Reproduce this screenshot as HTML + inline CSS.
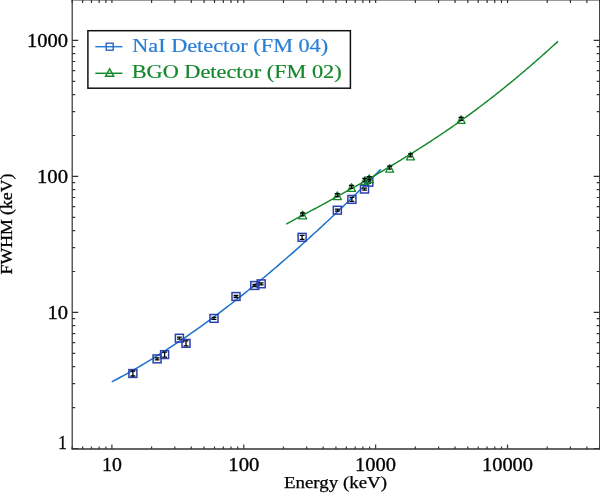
<!DOCTYPE html><html><head><meta charset="utf-8"><style>html,body{margin:0;padding:0;background:#fff;overflow:hidden;}svg{display:block;will-change:transform}text{font-family:"Liberation Serif",serif;fill:#000}</style></head><body>
<svg width="600" height="493" viewBox="0 0 600 493">
<rect width="600" height="493" fill="#fff"/>
<path d="M72.2,-1.1 V449.6 M599.7,-1.1 V449.6 M72.2,-0.1 H599.7" fill="none" stroke="#333" stroke-width="1.2"/>
<path d="M71.60000000000001,449.0 H600.3000000000001" fill="none" stroke="#333" stroke-width="1.35"/>
<path d="M72.20,449.0v-2.5 M72.20,-0.1v3.2 M82.64,449.0v-2.5 M82.64,-0.1v3.2 M91.47,449.0v-2.5 M91.47,-0.1v3.2 M99.12,449.0v-2.5 M99.12,-0.1v3.2 M105.87,449.0v-2.5 M105.87,-0.1v3.2 M111.90,449.0v-4.5 M111.90,-0.1v3.2 M151.60,449.0v-2.5 M151.60,-0.1v3.2 M174.82,449.0v-2.5 M174.82,-0.1v3.2 M191.29,449.0v-2.5 M191.29,-0.1v3.2 M204.07,449.0v-2.5 M204.07,-0.1v3.2 M214.51,449.0v-2.5 M214.51,-0.1v3.2 M223.34,449.0v-2.5 M223.34,-0.1v3.2 M230.99,449.0v-2.5 M230.99,-0.1v3.2 M237.74,449.0v-2.5 M237.74,-0.1v3.2 M243.77,449.0v-4.5 M243.77,-0.1v3.2 M283.47,449.0v-2.5 M283.47,-0.1v3.2 M306.69,449.0v-2.5 M306.69,-0.1v3.2 M323.16,449.0v-2.5 M323.16,-0.1v3.2 M335.94,449.0v-2.5 M335.94,-0.1v3.2 M346.38,449.0v-2.5 M346.38,-0.1v3.2 M355.21,449.0v-2.5 M355.21,-0.1v3.2 M362.86,449.0v-2.5 M362.86,-0.1v3.2 M369.61,449.0v-2.5 M369.61,-0.1v3.2 M375.64,449.0v-4.5 M375.64,-0.1v3.2 M415.34,449.0v-2.5 M415.34,-0.1v3.2 M438.56,449.0v-2.5 M438.56,-0.1v3.2 M455.03,449.0v-2.5 M455.03,-0.1v3.2 M467.81,449.0v-2.5 M467.81,-0.1v3.2 M478.25,449.0v-2.5 M478.25,-0.1v3.2 M487.08,449.0v-2.5 M487.08,-0.1v3.2 M494.73,449.0v-2.5 M494.73,-0.1v3.2 M501.48,449.0v-2.5 M501.48,-0.1v3.2 M507.51,449.0v-4.5 M507.51,-0.1v3.2 M547.21,449.0v-2.5 M547.21,-0.1v3.2 M570.43,449.0v-2.5 M570.43,-0.1v3.2 M586.90,449.0v-2.5 M586.90,-0.1v3.2 M599.68,449.0v-2.5 M599.68,-0.1v3.2 M72.2,448.50h6 M599.7,448.50h-6 M72.2,407.55h3 M599.7,407.55h-3 M72.2,383.60h3 M599.7,383.60h-3 M72.2,366.60h3 M599.7,366.60h-3 M72.2,353.42h3 M599.7,353.42h-3 M72.2,342.65h3 M599.7,342.65h-3 M72.2,333.54h3 M599.7,333.54h-3 M72.2,325.65h3 M599.7,325.65h-3 M72.2,318.69h3 M599.7,318.69h-3 M72.2,312.47h6 M599.7,312.47h-6 M72.2,271.52h3 M599.7,271.52h-3 M72.2,247.57h3 M599.7,247.57h-3 M72.2,230.57h3 M599.7,230.57h-3 M72.2,217.39h3 M599.7,217.39h-3 M72.2,206.62h3 M599.7,206.62h-3 M72.2,197.51h3 M599.7,197.51h-3 M72.2,189.62h3 M599.7,189.62h-3 M72.2,182.66h3 M599.7,182.66h-3 M72.2,176.44h6 M599.7,176.44h-6 M72.2,135.49h3 M599.7,135.49h-3 M72.2,111.54h3 M599.7,111.54h-3 M72.2,94.54h3 M599.7,94.54h-3 M72.2,81.36h3 M599.7,81.36h-3 M72.2,70.59h3 M599.7,70.59h-3 M72.2,61.48h3 M599.7,61.48h-3 M72.2,53.59h3 M599.7,53.59h-3 M72.2,46.63h3 M599.7,46.63h-3 M72.2,40.41h6 M599.7,40.41h-6 M72.2,-0.54h3 M599.7,-0.54h-3" stroke="#333" stroke-width="1.2" fill="none"/>
<text x="111.9" y="470.8" font-size="18" stroke="#000" stroke-width="0.3" text-anchor="middle" textLength="19.8" lengthAdjust="spacingAndGlyphs">10</text>
<text x="243.8" y="470.8" font-size="18" stroke="#000" stroke-width="0.3" text-anchor="middle" textLength="31" lengthAdjust="spacingAndGlyphs">100</text>
<text x="375.6" y="470.8" font-size="18" stroke="#000" stroke-width="0.3" text-anchor="middle" textLength="41" lengthAdjust="spacingAndGlyphs">1000</text>
<text x="507.5" y="470.8" font-size="18" stroke="#000" stroke-width="0.3" text-anchor="middle" textLength="51" lengthAdjust="spacingAndGlyphs">10000</text>
<text x="66.8" y="448.6" font-size="18" stroke="#000" stroke-width="0.3" text-anchor="end" textLength="8.5" lengthAdjust="spacingAndGlyphs">1</text>
<text x="68" y="318.8" font-size="18" stroke="#000" stroke-width="0.3" text-anchor="end" textLength="20.5" lengthAdjust="spacingAndGlyphs">10</text>
<text x="68" y="182.7" font-size="18" stroke="#000" stroke-width="0.3" text-anchor="end" textLength="31" lengthAdjust="spacingAndGlyphs">100</text>
<text x="68" y="46.7" font-size="18" stroke="#000" stroke-width="0.3" text-anchor="end" textLength="41" lengthAdjust="spacingAndGlyphs">1000</text>
<text x="335.5" y="488" font-size="16" stroke="#000" stroke-width="0.25" text-anchor="middle" textLength="103" lengthAdjust="spacingAndGlyphs">Energy (keV)</text>
<text transform="translate(12.2,224) rotate(-90)" x="0" y="0" font-size="17" stroke="#000" stroke-width="0.3" text-anchor="middle" textLength="100.8" lengthAdjust="spacingAndGlyphs">FWHM (keV)</text>
<path d="M111.80,381.85 L114.06,380.66 L116.32,379.47 L118.58,378.25 L120.84,377.03 L123.10,375.80 L125.36,374.55 L127.62,373.29 L129.88,372.02 L132.14,370.74 L134.41,369.44 L136.67,368.14 L138.93,366.82 L141.19,365.49 L143.45,364.15 L145.71,362.80 L147.97,361.44 L150.23,360.07 L152.49,358.68 L154.75,357.28 L157.01,355.88 L159.27,354.46 L161.53,353.03 L163.79,351.59 L166.05,350.14 L168.31,348.67 L170.57,347.20 L172.83,345.72 L175.09,344.22 L177.35,342.72 L179.62,341.20 L181.88,339.67 L184.14,338.13 L186.40,336.59 L188.66,335.03 L190.92,333.46 L193.18,331.88 L195.44,330.29 L197.70,328.69 L199.96,327.08 L202.22,325.46 L204.48,323.83 L206.74,322.19 L209.00,320.54 L211.26,318.88 L213.52,317.20 L215.78,315.52 L218.04,313.83 L220.30,312.13 L222.56,310.42 L224.83,308.70 L227.09,306.97 L229.35,305.24 L231.61,303.49 L233.87,301.73 L236.13,299.96 L238.39,298.18 L240.65,296.40 L242.91,294.60 L245.17,292.80 L247.43,290.98 L249.69,289.16 L251.95,287.33 L254.21,285.48 L256.47,283.63 L258.73,281.77 L260.99,279.91 L263.25,278.03 L265.51,276.14 L267.77,274.25 L270.04,272.34 L272.30,270.43 L274.56,268.51 L276.82,266.58 L279.08,264.64 L281.34,262.69 L283.60,260.74 L285.86,258.78 L288.12,256.80 L290.38,254.82 L292.64,252.83 L294.90,250.84 L297.16,248.83 L299.42,246.82 L301.68,244.80 L303.94,242.77 L306.20,240.73 L308.46,238.69 L310.72,236.63 L312.98,234.57 L315.25,232.50 L317.51,230.43 L319.77,228.34 L322.03,226.25 L324.29,224.15 L326.55,222.05 L328.81,219.93 L331.07,217.81 L333.33,215.68 L335.59,213.54 L337.85,211.40 L340.11,209.25 L342.37,207.09 L344.63,204.93 L346.89,202.75 L349.15,200.57 L351.41,198.39 L353.67,196.19 L355.93,193.99 L358.19,191.79 L360.46,189.57 L362.72,187.35 L364.98,185.12 L367.24,182.89 L369.50,180.65 L371.76,178.40 L374.02,176.15 L376.28,173.89 L378.54,171.62 L380.80,169.35" fill="none" stroke="#1c72ca" stroke-width="1.5" stroke-linejoin="round"/>
<rect x="128.90" y="369.60" width="8" height="7.8" fill="none" stroke="#2a3fb0" stroke-width="1.5"/>
<path d="M130.50,371.00h4.8 M132.90,371.00v5.00 M130.50,376.00h4.8" stroke="#000" stroke-width="1.3"/>
<rect x="153.10" y="355.00" width="8" height="7.8" fill="none" stroke="#2a3fb0" stroke-width="1.5"/>
<path d="M154.70,357.90h4.8 M157.10,357.90v2.00 M154.70,359.90h4.8" stroke="#000" stroke-width="1.3"/>
<rect x="160.60" y="350.70" width="8" height="7.8" fill="none" stroke="#2a3fb0" stroke-width="1.5"/>
<path d="M162.20,352.10h4.8 M164.60,352.10v5.00 M162.20,357.10h4.8" stroke="#000" stroke-width="1.3"/>
<rect x="175.40" y="334.30" width="8" height="7.8" fill="none" stroke="#2a3fb0" stroke-width="1.5"/>
<path d="M177.00,337.20h4.8 M179.40,337.20v2.00 M177.00,339.20h4.8" stroke="#000" stroke-width="1.3"/>
<rect x="182.00" y="339.50" width="8" height="7.8" fill="none" stroke="#2a3fb0" stroke-width="1.5"/>
<path d="M183.60,340.90h4.8 M186.00,340.90v5.00 M183.60,345.90h4.8" stroke="#000" stroke-width="1.3"/>
<rect x="210.00" y="314.50" width="8" height="7.8" fill="none" stroke="#2a3fb0" stroke-width="1.5"/>
<path d="M211.60,317.40h4.8 M214.00,317.40v2.00 M211.60,319.40h4.8" stroke="#000" stroke-width="1.3"/>
<rect x="232.00" y="292.60" width="8" height="7.8" fill="none" stroke="#2a3fb0" stroke-width="1.5"/>
<path d="M233.60,295.50h4.8 M236.00,295.50v2.00 M233.60,297.50h4.8" stroke="#000" stroke-width="1.3"/>
<rect x="250.80" y="281.60" width="8" height="7.8" fill="none" stroke="#2a3fb0" stroke-width="1.5"/>
<path d="M252.40,284.50h4.8 M254.80,284.50v2.00 M252.40,286.50h4.8" stroke="#000" stroke-width="1.3"/>
<rect x="257.20" y="279.90" width="8" height="7.8" fill="none" stroke="#2a3fb0" stroke-width="1.5"/>
<path d="M258.80,282.80h4.8 M261.20,282.80v2.00 M258.80,284.80h4.8" stroke="#000" stroke-width="1.3"/>
<rect x="298.10" y="233.40" width="8" height="7.8" fill="none" stroke="#2a3fb0" stroke-width="1.5"/>
<path d="M299.70,235.30h4.8 M302.10,235.30v4.00 M299.70,239.30h4.8" stroke="#000" stroke-width="1.3"/>
<rect x="333.35" y="206.30" width="8" height="7.8" fill="none" stroke="#2a3fb0" stroke-width="1.5"/>
<path d="M334.95,209.20h4.8 M337.35,209.20v2.00 M334.95,211.20h4.8" stroke="#000" stroke-width="1.3"/>
<rect x="347.90" y="195.50" width="8" height="7.8" fill="none" stroke="#2a3fb0" stroke-width="1.5"/>
<path d="M349.50,197.40h4.8 M351.90,197.40v4.00 M349.50,201.40h4.8" stroke="#000" stroke-width="1.3"/>
<rect x="360.50" y="185.20" width="8" height="7.8" fill="none" stroke="#2a3fb0" stroke-width="1.5"/>
<path d="M362.10,188.10h4.8 M364.50,188.10v2.00 M362.10,190.10h4.8" stroke="#000" stroke-width="1.3"/>
<rect x="364.80" y="178.30" width="8" height="7.8" fill="none" stroke="#2a3fb0" stroke-width="1.5"/>
<path d="M366.40,181.20h4.8 M368.80,181.20v2.00 M366.40,183.20h4.8" stroke="#000" stroke-width="1.3"/>
<path d="M286.26,224.01 L287.62,223.29 L288.98,222.57 L290.34,221.85 L291.70,221.12 L293.05,220.40 L294.41,219.68 L295.77,218.95 L297.13,218.23 L298.49,217.51 L299.85,216.78 L301.21,216.05 L302.57,215.33 L303.92,214.60 L305.28,213.87 L306.64,213.14 L308.00,212.42 L309.36,211.69 L310.72,210.96 L312.08,210.22 L313.44,209.49 L314.79,208.76 L316.15,208.03 L317.51,207.29 L318.87,206.56 L320.23,205.82 L321.59,205.09 L322.95,204.35 L324.31,203.61 L325.66,202.87 L327.02,202.14 L328.38,201.39 L329.74,200.65 L331.10,199.91 L332.46,199.17 L333.82,198.42 L335.18,197.68 L336.53,196.93 L337.89,196.19 L339.25,195.44 L340.61,194.69 L341.97,193.94 L343.33,193.19 L344.69,192.44 L346.04,191.68 L347.40,190.93 L348.76,190.17 L350.12,189.41 L351.48,188.66 L352.84,187.90 L354.20,187.14 L355.56,186.37 L356.91,185.61 L358.27,184.84 L359.63,184.08 L360.99,183.31 L362.35,182.54 L363.71,181.77 L365.07,181.00 L366.43,180.22 L367.78,179.45 L369.14,178.67 L370.50,177.89 L371.86,177.11 L373.22,176.33 L374.58,175.55 L375.94,174.76 L377.30,173.98 L378.65,173.19 L380.01,172.40 L381.37,171.60 L382.73,170.81 L384.09,170.01 L385.45,169.21 L386.81,168.41 L388.17,167.61 L389.52,166.81 L390.88,166.00 L392.24,165.19 L393.60,164.38 L394.96,163.57 L396.32,162.75 L397.68,161.93 L399.03,161.11 L400.39,160.29 L401.75,159.46 L403.11,158.64 L404.47,157.81 L405.83,156.98 L407.19,156.14 L408.55,155.30 L409.90,154.46 L411.26,153.62 L412.62,152.77 L413.98,151.93 L415.34,151.07 L416.70,150.22 L418.06,149.36 L419.42,148.50 L420.77,147.64 L422.13,146.78 L423.49,145.91 L424.85,145.04 L426.21,144.16 L427.57,143.28 L428.93,142.40 L430.29,141.52 L431.64,140.63 L433.00,139.74 L434.36,138.85 L435.72,137.95 L437.08,137.05 L438.44,136.14 L439.80,135.24 L441.16,134.33 L442.51,133.41 L443.87,132.49 L445.23,131.57 L446.59,130.65 L447.95,129.72 L449.31,128.79 L450.67,127.85 L452.03,126.91 L453.38,125.97 L454.74,125.02 L456.10,124.07 L457.46,123.11 L458.82,122.15 L460.18,121.19 L461.54,120.22 L462.89,119.25 L464.25,118.28 L465.61,117.30 L466.97,116.32 L468.33,115.33 L469.69,114.34 L471.05,113.34 L472.41,112.35 L473.76,111.34 L475.12,110.34 L476.48,109.33 L477.84,108.31 L479.20,107.29 L480.56,106.27 L481.92,105.24 L483.28,104.21 L484.63,103.17 L485.99,102.13 L487.35,101.09 L488.71,100.04 L490.07,98.99 L491.43,97.93 L492.79,96.87 L494.15,95.81 L495.50,94.74 L496.86,93.67 L498.22,92.59 L499.58,91.51 L500.94,90.42 L502.30,89.33 L503.66,88.24 L505.02,87.14 L506.37,86.04 L507.73,84.93 L509.09,83.82 L510.45,82.71 L511.81,81.59 L513.17,80.47 L514.53,79.34 L515.88,78.21 L517.24,77.08 L518.60,75.94 L519.96,74.80 L521.32,73.65 L522.68,72.50 L524.04,71.35 L525.40,70.19 L526.75,69.03 L528.11,67.87 L529.47,66.70 L530.83,65.53 L532.19,64.35 L533.55,63.17 L534.91,61.99 L536.27,60.80 L537.62,59.62 L538.98,58.42 L540.34,57.23 L541.70,56.02 L543.06,54.82 L544.42,53.61 L545.78,52.40 L547.14,51.19 L548.49,49.97 L549.85,48.75 L551.21,47.53 L552.57,46.30 L553.93,45.08 L555.29,43.84 L556.65,42.61 L558.01,41.37" fill="none" stroke="#15882c" stroke-width="1.45" stroke-linejoin="round"/>
<path d="M302.60,211.10 L306.60,218.80 L298.60,218.80 Z" fill="none" stroke="#15882c" stroke-width="1.3" stroke-linejoin="round"/>
<path d="M300.00,212.80h5.2 M302.60,212.80v3 M300.80,215.80h3.6" stroke="#000" stroke-width="1.2"/>
<path d="M337.30,191.90 L341.30,199.60 L333.30,199.60 Z" fill="none" stroke="#15882c" stroke-width="1.3" stroke-linejoin="round"/>
<path d="M334.70,193.60h5.2 M337.30,193.60v3 M335.50,196.60h3.6" stroke="#000" stroke-width="1.2"/>
<path d="M351.50,183.70 L355.50,191.40 L347.50,191.40 Z" fill="none" stroke="#15882c" stroke-width="1.3" stroke-linejoin="round"/>
<path d="M348.90,185.40h5.2 M351.50,185.40v3 M349.70,188.40h3.6" stroke="#000" stroke-width="1.2"/>
<path d="M364.90,176.70 L368.90,184.40 L360.90,184.40 Z" fill="none" stroke="#15882c" stroke-width="1.3" stroke-linejoin="round"/>
<path d="M362.30,178.40h5.2 M364.90,178.40v3 M363.10,181.40h3.6" stroke="#000" stroke-width="1.2"/>
<path d="M369.20,174.90 L373.20,182.60 L365.20,182.60 Z" fill="none" stroke="#15882c" stroke-width="1.3" stroke-linejoin="round"/>
<path d="M366.60,176.60h5.2 M369.20,176.60v3 M367.40,179.60h3.6" stroke="#000" stroke-width="1.2"/>
<path d="M389.70,164.50 L393.70,172.20 L385.70,172.20 Z" fill="none" stroke="#15882c" stroke-width="1.3" stroke-linejoin="round"/>
<path d="M387.10,166.20h5.2 M389.70,166.20v3 M387.90,169.20h3.6" stroke="#000" stroke-width="1.2"/>
<path d="M410.50,152.20 L414.50,159.90 L406.50,159.90 Z" fill="none" stroke="#15882c" stroke-width="1.3" stroke-linejoin="round"/>
<path d="M407.90,153.90h5.2 M410.50,153.90v3 M408.70,156.90h3.6" stroke="#000" stroke-width="1.2"/>
<path d="M461.10,115.70 L465.10,123.40 L457.10,123.40 Z" fill="none" stroke="#15882c" stroke-width="1.3" stroke-linejoin="round"/>
<path d="M458.50,117.40h5.2 M461.10,117.40v3 M459.30,120.40h3.6" stroke="#000" stroke-width="1.2"/>
<rect x="87.9" y="30.7" width="262.5" height="57.5" fill="#fff" stroke="#111" stroke-width="1.5"/>
<path d="M95.3,46.7 H122.5" stroke="#2a7fd4" stroke-width="1.5"/>
<rect x="106.2" y="43.2" width="7" height="7" fill="none" stroke="#2b66bc" stroke-width="1.4"/>
<path d="M95.3,73.3 H122.5" stroke="#15882c" stroke-width="1.5"/>
<path d="M109.7,68.8 L113.8,76.3 L105.6,76.3 Z" fill="none" stroke="#15882c" stroke-width="1.4"/>
<text x="132.2" y="51.5" font-size="19" style="fill:#2a7fd4;stroke:#2a7fd4;stroke-width:0.2" textLength="196" lengthAdjust="spacingAndGlyphs">NaI Detector (FM 04)</text>
<text x="131.7" y="78" font-size="19" style="fill:#15882c;stroke:#15882c;stroke-width:0.2" textLength="210" lengthAdjust="spacingAndGlyphs">BGO Detector (FM 02)</text>
</svg></body></html>
